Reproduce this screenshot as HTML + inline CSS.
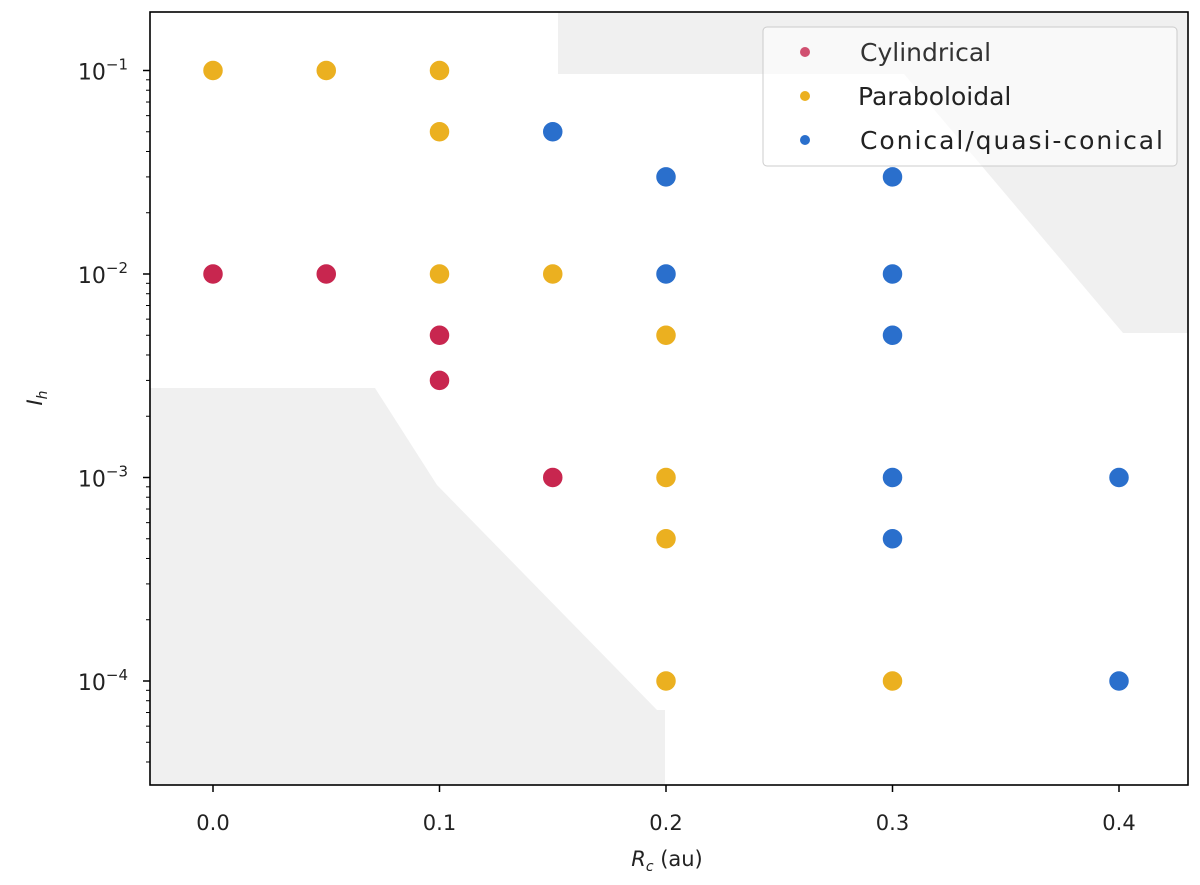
<!DOCTYPE html>
<html><head><meta charset="utf-8"><style>
body{margin:0;background:#fff}
svg{display:block;font-family:"DejaVu Sans","Liberation Sans",sans-serif}
</style></head><body>
<svg id="chart" width="1200" height="885">
<g id="shade">
<polygon fill="#f0f0f0" points="558,12 1188,12 1188,333 1123,333 904,74 558,74"/>
<polygon fill="#f0f0f0" points="150,388 375,388 437,485 657,710 665,710 665,785 150,785"/>
</g>
<g id="ticks"></g>
<g id="pts"></g>
<rect x="150" y="12" width="1038" height="773" fill="none" stroke="#000" stroke-width="1.6"/>
<g>
<rect x="763" y="27" width="414" height="139" rx="4" fill="#fff" fill-opacity="0.6" stroke="#ccc"/>
<g><circle cx="805" cy="52" r="5" fill="#d05070"/><text x="860" y="61" font-size="25" fill="#333">Cylindrical</text></g>
<g><circle cx="805" cy="96" r="5" fill="#ebb020"/><text x="858" y="105" font-size="25" fill="#222">Paraboloidal</text></g>
<g><circle cx="805" cy="140" r="5" fill="#2a6fcc"/><text x="860" y="149" font-size="25" fill="#222" textLength="303">Conical/quasi-conical</text></g>
</g>
<text x="667" y="866" font-size="21" text-anchor="middle" fill="#222"><tspan font-style="italic">R</tspan><tspan font-style="italic" font-size="14" dy="5">c</tspan><tspan dy="-5"> (au)</tspan></text>
<text transform="translate(42,398) rotate(-90)" font-size="21" text-anchor="middle" fill="#222"><tspan font-style="italic">I</tspan><tspan font-style="italic" font-size="14" dy="5">h</tspan></text>
</svg>
<script>
const xTicks=[0.0,0.1,0.2,0.3,0.4];
const yTickExps=[-1,-2,-3,-4];
const cylX=[0,0.05,0.1,0.1,0.15];
const cylY=[0.01,0.01,0.005,0.003,0.001];
const parX=[0,0.05,0.1,0.1,0.1,0.15,0.2,0.2,0.2,0.2,0.3];
const parY=[0.1,0.1,0.1,0.05,0.01,0.01,0.005,0.001,0.0005,0.0001,0.0001];
const conX=[0.15,0.2,0.3,0.2,0.3,0.3,0.3,0.4,0.3,0.4];
const conY=[0.05,0.03,0.03,0.01,0.01,0.005,0.001,0.001,0.0005,0.0001];
const NS="http://www.w3.org/2000/svg";
function sx(v){return 213+v*2265;}
function sy(v){return 274-203.5*(Math.log10(v)+2);}
const tg=document.getElementById('ticks');
function mk(t,a,p){const e=document.createElementNS(NS,t);for(const k in a)e.setAttribute(k,a[k]);p.appendChild(e);return e;}
xTicks.forEach(v=>{
 const l=mk('line',{x1:sx(v),x2:sx(v),y1:785,y2:792,stroke:'#000','stroke-width':1.5},tg);
 
 
 const t=mk('text',{x:sx(v),y:830,'font-size':21,'text-anchor':'middle',fill:'#222'},tg);
 t.textContent=v.toFixed(1);
 
 
});
yTickExps.forEach(e=>{
 const y=sy(Math.pow(10,e));
 const l=mk('line',{x1:143,x2:150,y1:y,y2:y,stroke:'#000','stroke-width':1.5},tg);
 
 
 const t=mk('text',{x:128,y:y+9,'font-size':22,'text-anchor':'end',fill:'#222'},tg);
 t.innerHTML='10<tspan font-size="15" dy="-10">\u2212'+(-e)+'</tspan>';
 
 
});
for(let d=-5;d<=-1;d++){for(let m=2;m<=9;m++){const v=m*Math.pow(10,d);const y=sy(v);if(y<12||y>785)continue;
 const l=mk('line',{x1:146,x2:150,y1:y,y2:y,stroke:'#000','stroke-width':1},tg);
 
 }}
const pg=document.getElementById('pts');
function series(xs,ys,col,name){xs.forEach((x,i)=>{
 const c=mk('circle',{cx:sx(x),cy:sy(ys[i]),r:10.5,fill:col,stroke:'#fff','stroke-width':1.5},pg);
 
 
});}
series(cylX,cylY,'#c8264f','point-cylindrical');
series(parX,parY,'#ebb020','point-paraboloidal');
series(conX,conY,'#2a6fcc','point-conical');
</script>
</body></html>
